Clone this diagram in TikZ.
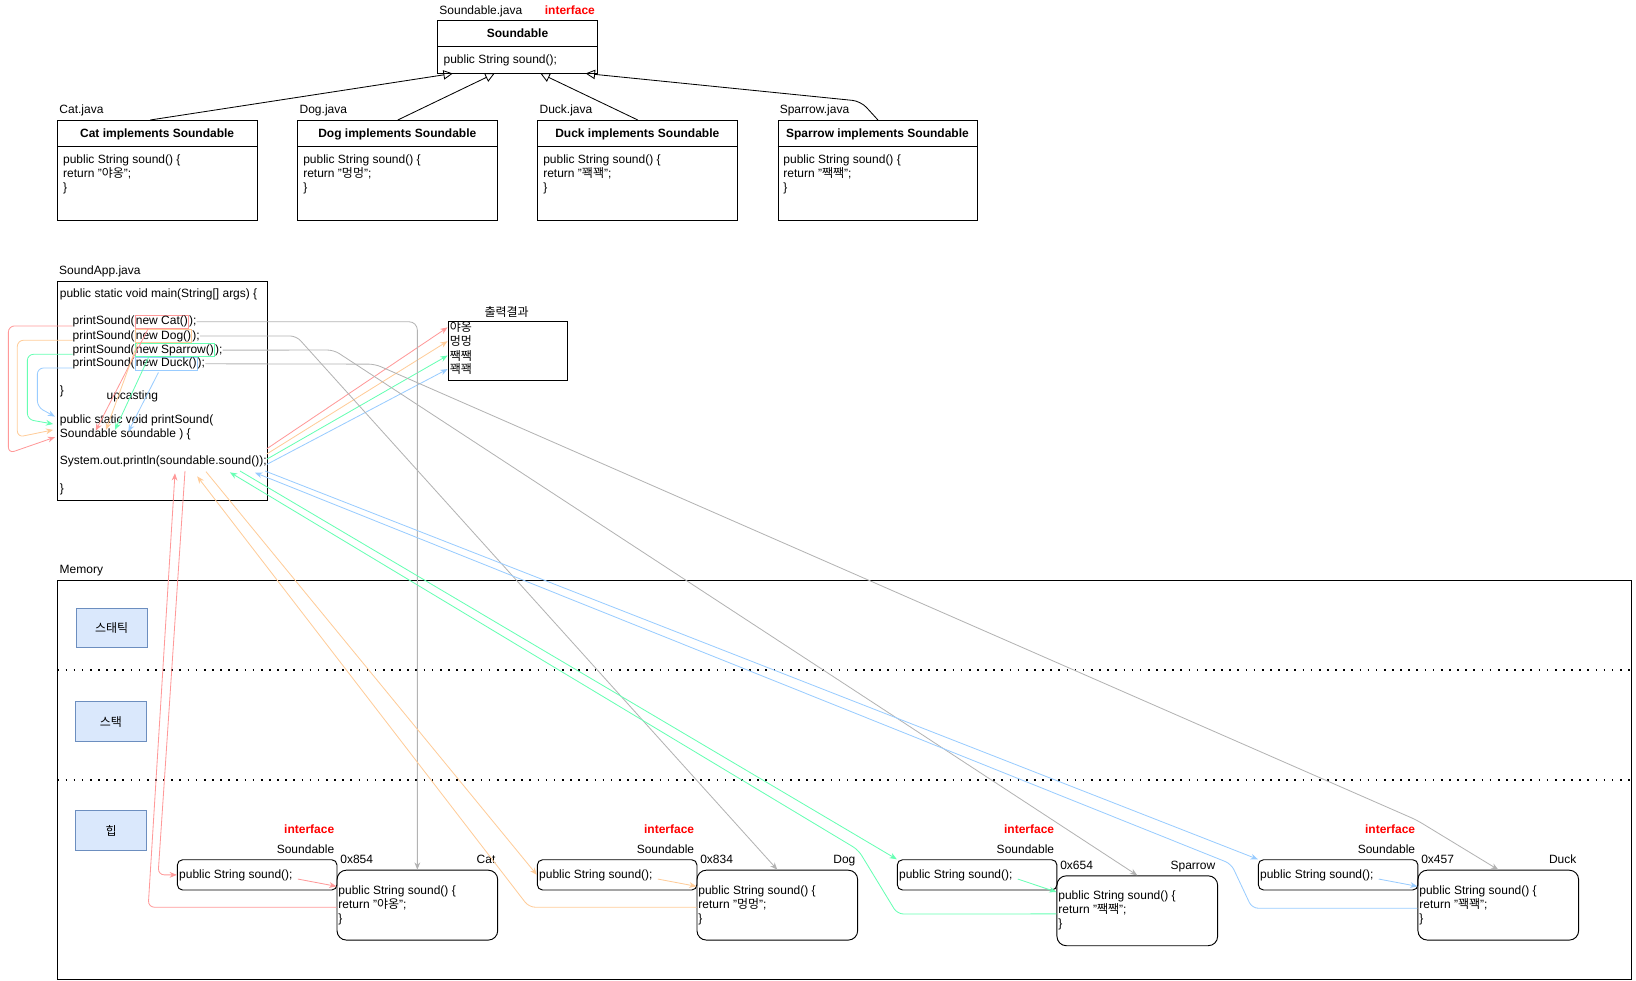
\documentclass[tikz,border=0pt]{standalone}
\usepackage{fontspec}
\setmainfont{Liberation Sans}
\newfontfamily\kr{Noto Sans CJK KR}
\usetikzlibrary{positioning,arrows.meta,calc}
\definecolor{catline}{HTML}{FF9999}
\definecolor{dogline}{HTML}{FFCC99}
\definecolor{sparrowline}{HTML}{66FFB3}
\definecolor{duckline}{HTML}{99CCFF}
\definecolor{refline}{HTML}{B3B3B3}
\definecolor{memfill}{HTML}{DAE8FC}
\definecolor{memdraw}{HTML}{6C8EBF}
\tikzset{
  txt/.style={inner sep=0pt,anchor=mid west},
  umlbox/.style={draw,line width=0.9pt,inner sep=0pt,anchor=north west},
  heapbox/.style={draw,line width=0.9pt,inner sep=0pt},
  newbox/.style={draw=#1,line width=0.8pt,inner xsep=0.5pt,inner ysep=0.6pt,anchor=base west},
  link/.style={->,draw=#1,line width=0.8pt,rounded corners=6pt},
  implements/.style={-{Triangle[open,length=9pt,width=9pt]},line width=0.8pt},
  memsplit/.style={line width=1.6pt,dash pattern=on 1.6pt off 6.2pt},
  membox/.style={draw=memdraw,fill=memfill,line width=1pt,minimum width=68pt,minimum height=38pt,font=\kr}
}
\begin{document}
\fontsize{11.5}{13.4}\selectfont
\begin{tikzpicture}[x=1pt,y=-1pt,>={Stealth[length=7pt,width=5.5pt]}]
  \useasboundingbox (0,0) rectangle (1568,940);
  \node[txt] at (421,10.5) {Soundable.java};
  \node[txt,text=red,font=\bfseries] at (522,10.5) {interface};
  \node[umlbox,minimum width=153.3pt,minimum height=50pt] (sable) at (419.3,19.5) {};
  \draw[line width=0.9pt] (419.3,44.4) -- ++(153.3,0);
  \node[font=\bfseries] at (496,32) {Soundable};
  \node[txt] at (425,57.5) {public String sound();};
  \foreach \n/\x/\cls/\snd in {cat/54.8/Cat/야옹,dog/285/Dog/멍멍,duck/515/Duck/꽥꽥,sparrow/745.2/Sparrow/짹짹}{
    \node[txt] at (\x+2,105.5) {\cls.java};
    \node[umlbox,minimum width=191.6pt,minimum height=96pt] (\n) at (\x,115) {};
    \draw[line width=0.9pt] (\x,140.3) -- ++(191.6,0);
    \node[font=\bfseries] at (\x+95.8,128.4) {\cls\ implements Soundable};
    \node[txt,anchor=west,align=left] at (\x+5.5,166.7) {public String sound() \{\\return "{\kr\snd}";\\\}};
  }
  \draw[implements] ([xshift=-7pt]cat.north) -- ([xshift=14.7pt]sable.south west);
  \draw[implements] (dog.north) -- ([xshift=54.7pt]sable.south west);
  \draw[implements] (duck.north) -- ([xshift=98.7pt]sable.south west);
  \draw[implements,rounded corners=8pt] (sparrow.north) -- (825,97) -- ([xshift=142pt]sable.south west);

  \node[txt] at (56.5,259.7) {SoundApp.java};
  \node[umlbox,minimum width=201.2pt,minimum height=210.2pt] (app) at (54.8,269) {};
  \node[txt] at (57.2,282) {public static void main(String[] args) \{};
  \foreach \n/\y/\cls/\col in {cat/308.3/Cat/catline,dog/322/Dog/dogline,spr/335.5/Sparrow/sparrowline,duck/348.6/Duck/duckline}{
    \node[txt] (p\n) at (69.5,\y) {printSound(};
    \node[newbox=\col] (n\n) at (p\n.base east) {new \cls()};
    \node[txt,anchor=base west] (e\n) at (n\n.base east) {);};
  }
  \node[txt] at (57.2,375.4) {\}};
  \node[txt] at (102,379.5) {upcasting};
  \node[txt] at (57.2,402.5) {public static void printSound(};
  \node[txt] at (57.2,416) {Soundable soundable ) \{};
  \node[txt] (prn) at (57.2,442.5) {System.out.println(soundable.sound());};
  \node[txt] at (57.2,469) {\}};

  \node (otitle) at (485.6,298.7) {\kr 출력결과};
  \node[umlbox,minimum width=114.7pt,minimum height=57pt] (out) at (429,307.3) {};
  \foreach \k/\y/\snd in {1/315/야옹,2/328.3/멍멍,3/342/짹짹,4/355/꽥꽥}
    \node[txt,inner xsep=2pt] (o\k) at (429,\y) {\kr\snd};

  \node[txt] at (57,547) {Memory};
  \node[draw,line width=0.9pt,minimum width=1508.5pt,minimum height=382pt,anchor=north west,inner sep=0pt] (mem) at (55,556) {};
  \draw[memsplit] (55,642) -- (1563.5,642);
  \draw[memsplit] (55,747.6) -- (1563.5,747.6);
  \node[membox] (static) at (107,602) {스태틱};
  \node[membox] (stack) at (106.3,691.6) {스택};
  \node[membox] (heap) at (106.5,796) {힙};

  \foreach \i/\dx/\dy/\cls/\addr/\snd/\col in {1/0/0/Cat/0x854/야옹/catline,2/345/0/Dog/0x834/멍멍/dogline,3/690/5.4/Sparrow/0x654/짹짹/sparrowline,4/1036/0/Duck/0x457/꽥꽥/duckline}{
    \node[txt,anchor=mid east,text=red,font=\bfseries] at (320.5+\dx,796) {interface};
    \node[txt,anchor=mid east] at (320.5+\dx,815.3) {Soundable};
    \node[heapbox,rounded corners=5pt,minimum width=153pt,minimum height=29pt] (if\i) at (246.5+\dx,838.5) {};
    \node[txt] at ([xshift=2pt]if\i.west) {public String sound();};
    \node[heapbox,rounded corners=9pt,minimum width=154pt,minimum height=67pt] (obj\i) at (400+\dx,867.5+\dy) {};
    \node[txt,anchor=west,align=left] at ([xshift=1.6pt]obj\i.west) {public String sound() \{\\return "{\kr\snd}";\\\}};
    \node[txt] at (326+\dx,825+\dy) {\addr};
    \node[txt,anchor=mid east] at (475+\dx,825+\dy) {\cls};
    \draw[link=\col] ([xshift=-38pt,yshift=-4pt]if\i.east) -- ([yshift=18pt]obj\i.west);
  }

  \coordinate (upcat) at (91.7,412.8);
  \coordinate (updog) at (101.6,412);
  \coordinate (upspr) at (110.2,412);
  \coordinate (upduck) at (123,413.7);
  \draw[link=catline] ([xshift=-13pt]ncat.south) -- (upcat);
  \draw[link=dogline] ([xshift=-24.7pt]ndog.south) -- (updog);
  \draw[link=sparrowline] ([xshift=-25pt]nspr.south) -- (upspr);
  \draw[link=duckline] ([xshift=-7.5pt,yshift=-2pt]nduck.south) -- (upduck);

  \coordinate (incat) at (52.7,419);
  \coordinate (indog) at (51,412);
  \coordinate (inspr) at (51,406.4);
  \coordinate (induck) at (52.7,399.3);
  \draw[link=catline] ([yshift=-4pt]pcat.west) -| (8,434.5) -- (incat);
  \draw[link=dogline] ([yshift=-4pt]pdog.west) -| (16.6,419) -- (indog);
  \draw[link=sparrowline] ([yshift=-4pt]pspr.west) -| (26.2,402) -- (inspr);
  \draw[link=duckline] ([yshift=-4pt]pduck.west) -| (35.8,390) -- (induck);

  \draw[link=catline] ([yshift=12.5pt]prn.east) -- (o1.west);
  \draw[link=dogline] ([yshift=7.5pt]prn.east) -- (o2.west);
  \draw[link=sparrowline] ([yshift=2.5pt]prn.east) -- (o3.west);
  \draw[link=duckline] ([yshift=-2.5pt]prn.east) -- (o4.west);

  \draw[link=refline,rounded corners=8pt] (ecat.east) -| (obj1.north);
  \draw[link=refline] (edog.east) -- (284,322) -- (obj2.north);
  \draw[link=refline] (espr.east) -- (320,335.5) -- (obj3.north);
  \draw[link=refline] (educk.east) -- (359.4,349) -- (1357.8,786) -- (obj4.north);

  \coordinate (callcat) at (177.3,451.4);
  \coordinate (retcat) at (167.7,453.6);
  \coordinate (calldog) at (197.4,452);
  \coordinate (retdog) at (189,456.5);
  \coordinate (callspr) at (230,451.4);
  \coordinate (retspr) at (220.4,452.7);
  \coordinate (callduck) at (254,451.4);
  \coordinate (retduck) at (244.4,453);
  \draw[link=catline] (callcat) -- (151.5,838.5) -- (if1.west);
  \draw[link=catline] ([yshift=-2pt]obj1.west) -- (142,869.5) -- (retcat);
  \draw[link=dogline] (calldog) -- (if2.west);
  \draw[link=dogline] ([yshift=-2pt]obj2.west) -- (507,869.5) -- (retdog);
  \draw[link=sparrowline] (callspr) -- (if3.north west);
  \draw[link=sparrowline] ([yshift=-3pt]obj3.west) -- (860,876) -- (822.6,814.6) -- (retspr);
  \draw[link=duckline] (callduck) -- (if4.north west);
  \draw[link=duckline] ([yshift=-3pt]obj4.west) -- (1200,870.5) -- (1180,828) -- (retduck);
\end{tikzpicture}
\end{document}
